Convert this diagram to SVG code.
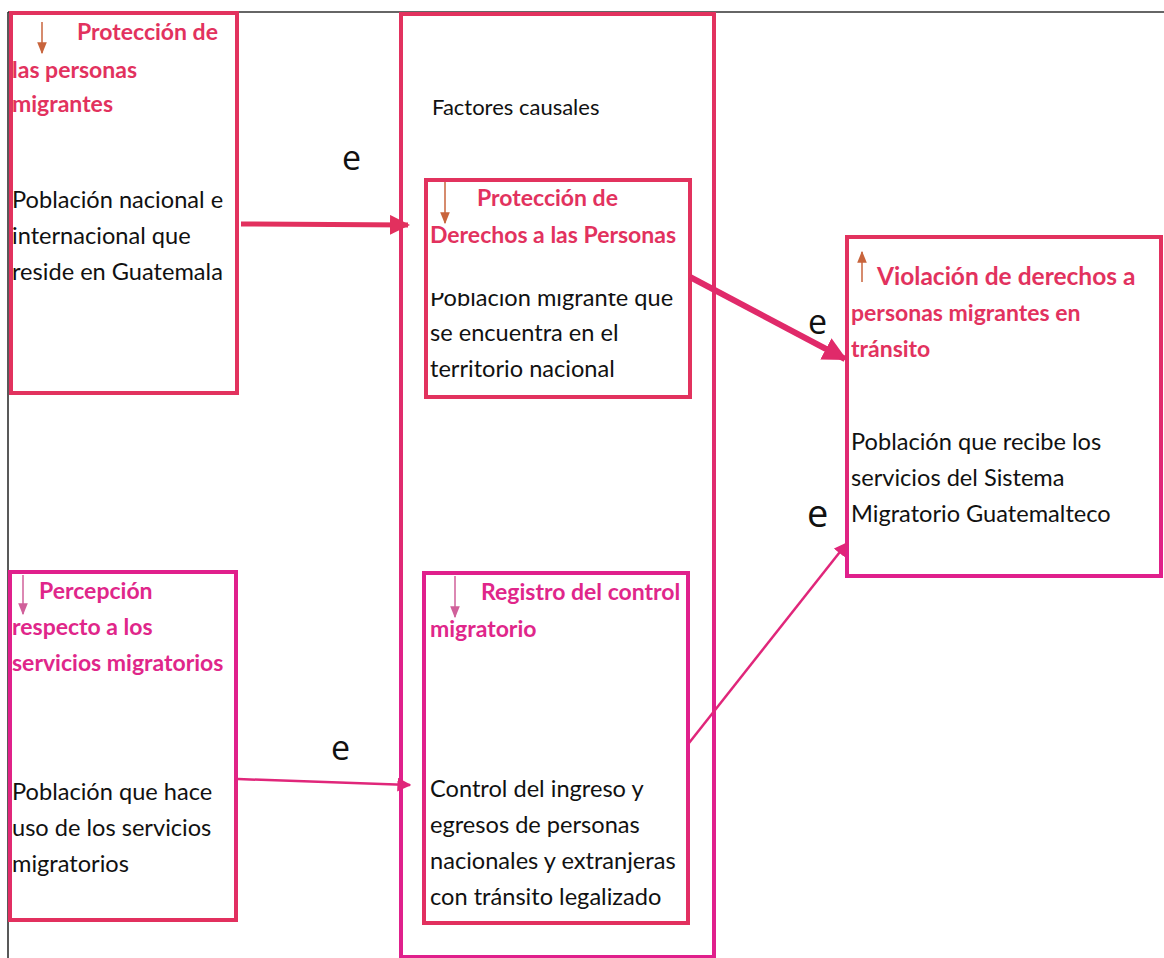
<svg xmlns="http://www.w3.org/2000/svg" width="1164" height="958" viewBox="0 0 1164 958">
<style>
.box{fill:none;stroke-width:4}
.t{font-family:Lato,"Liberation Sans",sans-serif;font-size:23.6px;fill:#111}
.h{font-family:Lato,"Liberation Sans",sans-serif;font-size:23px;font-weight:bold}
.hr{fill:#e2325e}
.hm{fill:#e0268a}
.e{font-family:"Open Sans","Liberation Sans",sans-serif;font-size:34px;fill:#111}
.conn{fill:none}
</style>
<defs>
<linearGradient id="gMid" x1="0" y1="0" x2="0" y2="1">
<stop offset="0" stop-color="#e2325e"/><stop offset="0.55" stop-color="#e02a70"/><stop offset="0.7" stop-color="#e0208c"/><stop offset="1" stop-color="#e0208c"/>
</linearGradient>
<linearGradient id="gC" x1="0" y1="0" x2="0" y2="1">
<stop offset="0" stop-color="#e2325e"/><stop offset="0.6" stop-color="#e02a70"/><stop offset="1" stop-color="#e0208c"/>
</linearGradient>
<linearGradient id="gLow" x1="0" y1="0" x2="0" y2="1">
<stop offset="0" stop-color="#e0208c"/><stop offset="0.5" stop-color="#e0208c"/><stop offset="1" stop-color="#e2305e"/>
</linearGradient>
<marker id="ahThick" viewBox="0 0 10 10" refX="9" refY="5" markerWidth="20" markerHeight="20" markerUnits="userSpaceOnUse" orient="auto">
<path d="M0,0 L10,5 L0,10 z" fill="#e2305e"/>
</marker>
<marker id="ahThick2" viewBox="0 0 10 10" refX="9" refY="5" markerWidth="24" markerHeight="24" markerUnits="userSpaceOnUse" orient="auto">
<path d="M0,0 L10,5 L0,10 z" fill="#e02a6a"/>
</marker>
<marker id="ahThin" viewBox="0 0 10 10" refX="9" refY="5" markerWidth="14" markerHeight="14" markerUnits="userSpaceOnUse" orient="auto">
<path d="M0,0 L10,5 L0,10 z" fill="#e0267a"/>
</marker>
<marker id="ahBrown" viewBox="0 0 10 10" refX="9" refY="5" markerWidth="12" markerHeight="12" markerUnits="userSpaceOnUse" orient="auto">
<path d="M0,1 L10,5 L0,9 z" fill="#c8643c"/>
</marker>
<marker id="ahPink" viewBox="0 0 10 10" refX="9" refY="5" markerWidth="12" markerHeight="12" markerUnits="userSpaceOnUse" orient="auto">
<path d="M0,1 L10,5 L0,9 z" fill="#d0609a"/>
</marker>
<clipPath id="cut"><rect x="425" y="293" width="265" height="100"/></clipPath>
</defs>

<g id="frame">
<line x1="8" y1="12" x2="1164" y2="12" stroke="#333" stroke-width="1.5"/>
<line x1="8" y1="12" x2="8" y2="958" stroke="#222" stroke-width="1.5"/>
</g>

<g id="factores">
<rect class="box" x="401" y="14" width="313" height="943" stroke="url(#gMid)"/>
<text class="t" x="432" y="115" style="font-size:22px">Factores causales</text>
</g>

<g id="proteccion-personas">
<rect class="box" x="11" y="13" width="226" height="380" stroke="#e2325e"/>
<line x1="42" y1="22" x2="42" y2="53" stroke="#c8643c" stroke-width="1.5" marker-end="url(#ahBrown)"/>
<text class="h hr" x="77" y="40">Protección de</text>
<text class="h hr" x="12" y="78">las personas</text>
<text class="h hr" x="12" y="112">migrantes</text>
<text class="t" x="12" y="208">Población nacional e</text>
<text class="t" x="12" y="244">internacional que</text>
<text class="t" x="12" y="280">reside en Guatemala</text>
</g>

<g id="proteccion-derechos">
<rect class="box" x="426" y="180" width="264" height="217" stroke="#e2325e"/>
<line x1="445" y1="182" x2="445" y2="223" stroke="#c8643c" stroke-width="1.5" marker-end="url(#ahBrown)"/>
<text class="h hr" x="477" y="206">Protección de</text>
<text class="h hr" x="430" y="243">Derechos a las Personas</text>
<text class="t" x="430" y="306" clip-path="url(#cut)">Población migrante que</text>
<text class="t" x="430" y="341">se encuentra en el</text>
<text class="t" x="430" y="377">territorio nacional</text>
</g>

<g id="violacion">
<rect class="box" x="847" y="237" width="314" height="339" stroke="url(#gC)"/>
<line x1="862" y1="282" x2="862" y2="252" stroke="#c8643c" stroke-width="1.5" marker-end="url(#ahBrown)"/>
<text class="h hr" x="877" y="285" style="font-size:24.5px">Violación de derechos a</text>
<text class="h hr" x="851" y="321">personas migrantes en</text>
<text class="h hr" x="851" y="357">tránsito</text>
<text class="t" x="851" y="450">Población  que recibe los</text>
<text class="t" x="851" y="486">servicios del Sistema</text>
<text class="t" x="851" y="522">Migratorio Guatemalteco</text>
</g>

<g id="percepcion">
<rect class="box" x="10" y="572" width="226" height="348" stroke="url(#gLow)"/>
<line x1="23" y1="575" x2="23" y2="614" stroke="#d0609a" stroke-width="1.5" marker-end="url(#ahPink)"/>
<text class="h hm" x="39" y="599">Percepción</text>
<text class="h hm" x="12" y="635">respecto a los</text>
<text class="h hm" x="12" y="671">servicios migratorios</text>
<text class="t" x="12" y="800">Población que hace</text>
<text class="t" x="12" y="836">uso de los servicios</text>
<text class="t" x="12" y="872">migratorios</text>
</g>

<g id="registro">
<rect class="box" x="424" y="573" width="264" height="350" stroke="url(#gLow)"/>
<line x1="455" y1="576" x2="455" y2="617" stroke="#d0609a" stroke-width="1.5" marker-end="url(#ahPink)"/>
<text class="h hm" x="481" y="600">Registro del control</text>
<text class="h hm" x="430" y="637">migratorio</text>
<text class="t" x="430" y="797">Control del ingreso y</text>
<text class="t" x="430" y="833">egresos de personas</text>
<text class="t" x="430" y="869">nacionales y extranjeras</text>
<text class="t" x="430" y="905">con tránsito legalizado</text>
</g>

<g id="connectors">
<line class="conn" x1="241" y1="224" x2="408" y2="225" stroke="#e2305e" stroke-width="5" marker-end="url(#ahThick)"/>
<line class="conn" x1="690" y1="277" x2="845" y2="359" stroke="#e02a6a" stroke-width="6" marker-end="url(#ahThick2)"/>
<line class="conn" x1="238" y1="779" x2="410" y2="785" stroke="#e0267a" stroke-width="2.5" marker-end="url(#ahThin)"/>
<line class="conn" x1="689" y1="743" x2="847" y2="543" stroke="#e0267a" stroke-width="2.5" marker-end="url(#ahThin)"/>
<text class="e" x="342" y="170">e</text>
<text class="e" x="808" y="334">e</text>
<text class="e" x="807" y="527" style="font-size:38px">e</text>
<text class="e" x="331" y="760">e</text>
</g>
</svg>
